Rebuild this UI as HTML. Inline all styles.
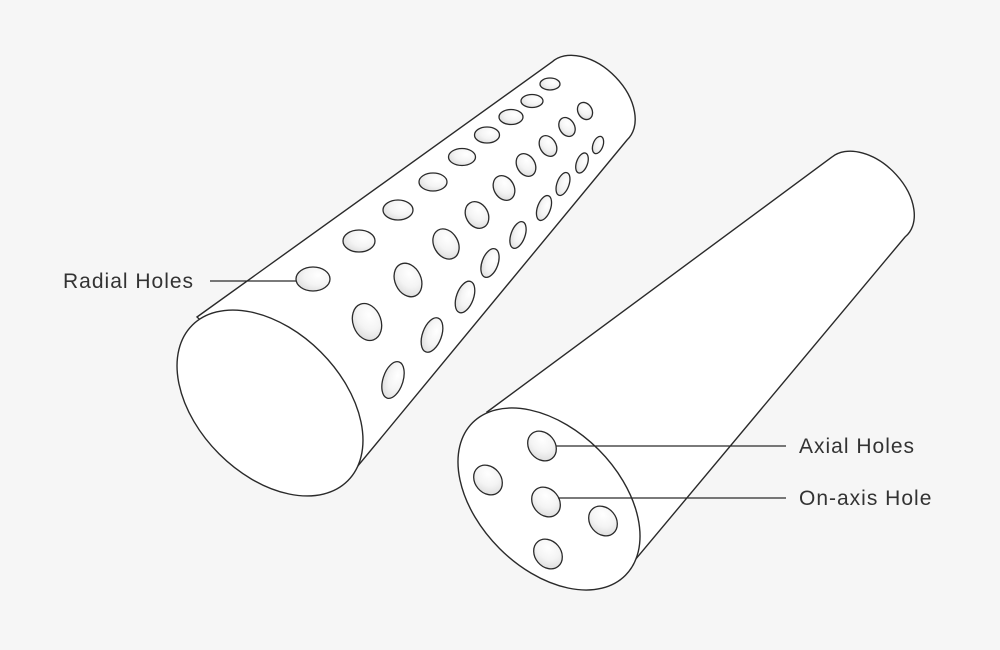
<!DOCTYPE html>
<html><head><style>
html,body{margin:0;padding:0;background:#f6f6f6;}
svg{display:block;}
text{font-family:"Liberation Sans",sans-serif;font-size:21px;fill:#333;letter-spacing:1px;}
</style></head><body>
<svg width="1000" height="650" viewBox="0 0 1000 650" xmlns="http://www.w3.org/2000/svg">
<defs>
<radialGradient id="g" cx="0.65" cy="0.35" r="0.8">
<stop offset="0" stop-color="#ffffff"/><stop offset="0.5" stop-color="#f4f4f4"/><stop offset="1" stop-color="#d8d8d8"/>
</radialGradient>
</defs>
<rect width="1000" height="650" fill="#f6f6f6"/>
<g stroke="#2a2a2a" stroke-width="1.4" fill="#fff">
<path d="M197,317 L552,62 A52 34 45 0 1 627,140 L357,467 Z"/>
<ellipse cx="270" cy="403" rx="110" ry="72" transform="rotate(45 270 403)"/>
<path d="M487,412 L832,157 A52 34 45 0 1 905,237 L635,560 Z"/>
<ellipse cx="549" cy="499" rx="108" ry="70" transform="rotate(45 549 499)"/>
</g>
<g stroke="#2a2a2a" stroke-width="1.3" fill="url(#g)">
<ellipse cx="550" cy="84" rx="10" ry="6"/>
<ellipse cx="532" cy="101" rx="11" ry="6.5"/>
<ellipse cx="511" cy="117" rx="12" ry="7.5"/>
<ellipse cx="487" cy="135" rx="12.5" ry="8"/>
<ellipse cx="462" cy="157" rx="13.5" ry="8.5"/>
<ellipse cx="433" cy="182" rx="14" ry="9"/>
<ellipse cx="398" cy="210" rx="15" ry="10"/>
<ellipse cx="359" cy="241" rx="16" ry="11"/>
<ellipse cx="313" cy="279" rx="17" ry="12"/>
<ellipse cx="585" cy="111" rx="7" ry="9" transform="rotate(-30 585 111)"/>
<ellipse cx="567" cy="127" rx="7.5" ry="10" transform="rotate(-30 567 127)"/>
<ellipse cx="548" cy="146" rx="8" ry="11" transform="rotate(-30 548 146)"/>
<ellipse cx="526" cy="165" rx="9" ry="12" transform="rotate(-30 526 165)"/>
<ellipse cx="504" cy="188" rx="10" ry="13" transform="rotate(-30 504 188)"/>
<ellipse cx="477" cy="215" rx="11" ry="14" transform="rotate(-30 477 215)"/>
<ellipse cx="446" cy="244" rx="12" ry="16" transform="rotate(-30 446 244)"/>
<ellipse cx="408" cy="280" rx="13" ry="17.5" transform="rotate(-25 408 280)"/>
<ellipse cx="367" cy="322" rx="14" ry="19" transform="rotate(-20 367 322)"/>
<ellipse cx="598" cy="145" rx="5" ry="9" transform="rotate(20 598 145)"/>
<ellipse cx="582" cy="163" rx="5.5" ry="10.5" transform="rotate(20 582 163)"/>
<ellipse cx="563" cy="184" rx="6" ry="12" transform="rotate(20 563 184)"/>
<ellipse cx="544" cy="208" rx="6.5" ry="13" transform="rotate(20 544 208)"/>
<ellipse cx="518" cy="235" rx="7" ry="14" transform="rotate(20 518 235)"/>
<ellipse cx="490" cy="263" rx="8" ry="15" transform="rotate(20 490 263)"/>
<ellipse cx="465" cy="297" rx="8.5" ry="16.5" transform="rotate(20 465 297)"/>
<ellipse cx="432" cy="335" rx="9.5" ry="18" transform="rotate(20 432 335)"/>
<ellipse cx="393" cy="380" rx="10" ry="19" transform="rotate(18 393 380)"/>
<ellipse cx="542" cy="446" rx="13" ry="16" transform="rotate(-40 542 446)"/>
<ellipse cx="488" cy="480" rx="13" ry="16" transform="rotate(-40 488 480)"/>
<ellipse cx="546" cy="502" rx="13" ry="16" transform="rotate(-40 546 502)"/>
<ellipse cx="603" cy="521" rx="13" ry="16" transform="rotate(-40 603 521)"/>
<ellipse cx="548" cy="554" rx="13" ry="16" transform="rotate(-40 548 554)"/>
</g>
<g stroke="#2a2a2a" stroke-width="1.3">
<line x1="210" y1="281" x2="296" y2="281"/>
<line x1="556" y1="446" x2="786" y2="446"/>
<line x1="558" y1="498" x2="786" y2="498"/>
</g>
<text x="63" y="288">Radial Holes</text>
<text x="799" y="453">Axial Holes</text>
<text x="799" y="505">On-axis Hole</text>
</svg>
</body></html>
